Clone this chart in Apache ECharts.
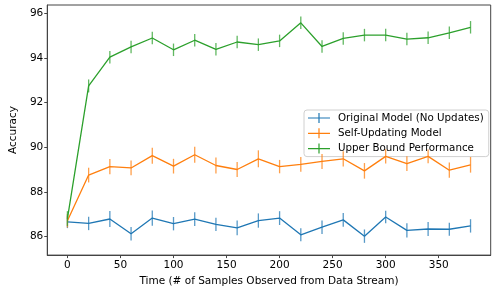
<!DOCTYPE html>
<html>
<head>
<meta charset="utf-8">
<script src="https://cdn.jsdelivr.net/npm/echarts@6/dist/echarts.min.js"></script>
<style>html,body{margin:0;padding:0;background:#fff}#c{width:499px;height:292px}</style>
</head>
<body>
<div id="c"></div>
<script>
const xs = [0,20,40,60,80,100,120,140,160,180,200,220,240,260,280,300,320,340,360,380];
const xTicks = [0,50,100,150,200,250,300,350];
const yTicks = [86,88,90,92,94,96];
const names = ['Original Model (No Updates)','Self-Updating Model','Upper Bound Performance'];
const colors = ['#1f77b4','#ff7f0e','#2ca02c'];
const originalMean = [86.65,86.58,86.78,86.12,86.82,86.57,86.77,86.54,86.38,86.71,86.82,86.07,86.41,86.74,86.01,86.87,86.27,86.33,86.32,86.47];
const originalErr  = [0.28,0.30,0.36,0.30,0.34,0.30,0.31,0.30,0.33,0.32,0.31,0.29,0.30,0.31,0.30,0.28,0.32,0.31,0.29,0.30];
const selfMean = [86.70,88.75,89.13,89.07,89.62,89.15,89.66,89.18,89.00,89.48,89.13,89.23,89.36,89.48,88.94,89.59,89.26,89.59,88.97,89.21];
const selfErr  = [0.30,0.33,0.34,0.33,0.36,0.33,0.36,0.36,0.34,0.38,0.30,0.33,0.34,0.34,0.35,0.32,0.33,0.31,0.34,0.35];
const upperMean = [86.80,92.75,94.04,94.50,94.90,94.37,94.80,94.39,94.72,94.60,94.77,95.58,94.52,94.88,95.03,95.03,94.85,94.91,95.13,95.38];
const upperErr  = [0.33,0.29,0.28,0.28,0.28,0.28,0.28,0.28,0.28,0.28,0.28,0.28,0.28,0.28,0.28,0.28,0.28,0.28,0.28,0.28];

const means = [originalMean, selfMean, upperMean];
const errs = [originalErr, selfErr, upperErr];
const FONT = 'DejaVu Sans';

const series = [];
for (let s = 0; s < 3; s++) {
  series.push({
    type: 'custom',
    name: names[s] + ' err',
    data: xs.map((x, i) => [x, means[s][i] - errs[s][i], means[s][i] + errs[s][i]]),
    encode: {x: 0, y: [1, 2]},
    z: 2 + s * 2,
    silent: true,
    renderItem: function (params, api) {
      const p1 = api.coord([api.value(0), api.value(1)]);
      const p2 = api.coord([api.value(0), api.value(2)]);
      return {type: 'line', shape: {x1: p1[0], y1: p1[1], x2: p2[0], y2: p2[1]},
        style: {stroke: colors[s], lineWidth: 1.3, opacity: 0.75}};
    }
  });
  series.push({
    type: 'line',
    name: names[s],
    data: xs.map((x, i) => [x, means[s][i]]),
    symbol: 'none',
    z: 3 + s * 2,
    lineStyle: {color: colors[s], width: 1.3},
    itemStyle: {color: colors[s]}
  });
}

const chart = echarts.init(document.getElementById('c'), null, {renderer: 'canvas'});
chart.setOption({
  animation: false,
  backgroundColor: '#fff',
  textStyle: {fontFamily: FONT},
  grid: {left: 32.7, top: 5, right: 8.3, bottom: 29.7, show: true, borderColor: '#444', borderWidth: 1, backgroundColor: 'transparent'},
  xAxis: {
    type: 'value', min: -19, max: 399,
    name: 'Time (# of Samples Observed from Data Stream)', nameLocation: 'middle', nameGap: 15,
    nameTextStyle: {fontFamily: FONT, fontSize: 10.5, color: '#000'},
    axisLine: {show: true, onZero: false, lineStyle: {color: '#444', width: 1}},
    axisTick: {show: true, length: 3, lineStyle: {color: '#444'}, customValues: xTicks},
    axisLabel: {fontFamily: FONT, fontSize: 10.5, color: '#000', margin: 5, customValues: xTicks},
    splitLine: {show: false}
  },
  yAxis: {
    type: 'value', min: 85.16, max: 96.38,
    name: 'Accuracy', nameLocation: 'middle', nameGap: 26,
    nameTextStyle: {fontFamily: FONT, fontSize: 10.5, color: '#000'},
    axisLine: {show: true, onZero: false, lineStyle: {color: '#444', width: 1}},
    axisTick: {show: true, length: 3, lineStyle: {color: '#444'}, customValues: yTicks},
    axisLabel: {fontFamily: FONT, fontSize: 10.5, color: '#000', margin: 4, customValues: yTicks},
    splitLine: {show: false}
  },
  legend: {
    orient: 'vertical', left: 304, top: 110,
    data: names.map(n => ({name: n, icon: 'path://M0,4.4h22v1.2h-22z M10.4,0h1.2v10h-1.2z'})),
    itemWidth: 22, itemHeight: 10, itemGap: 5.3,
    padding: [3, 5, 3, 4],
    textStyle: {fontFamily: FONT, fontSize: 10.3, color: '#000', padding: [0, 0, 0, 3]},
    backgroundColor: 'rgba(255,255,255,0.8)', borderColor: '#d0d0d0', borderWidth: 1, borderRadius: 3
  },
  series: series
});
</script>
</body>
</html>
